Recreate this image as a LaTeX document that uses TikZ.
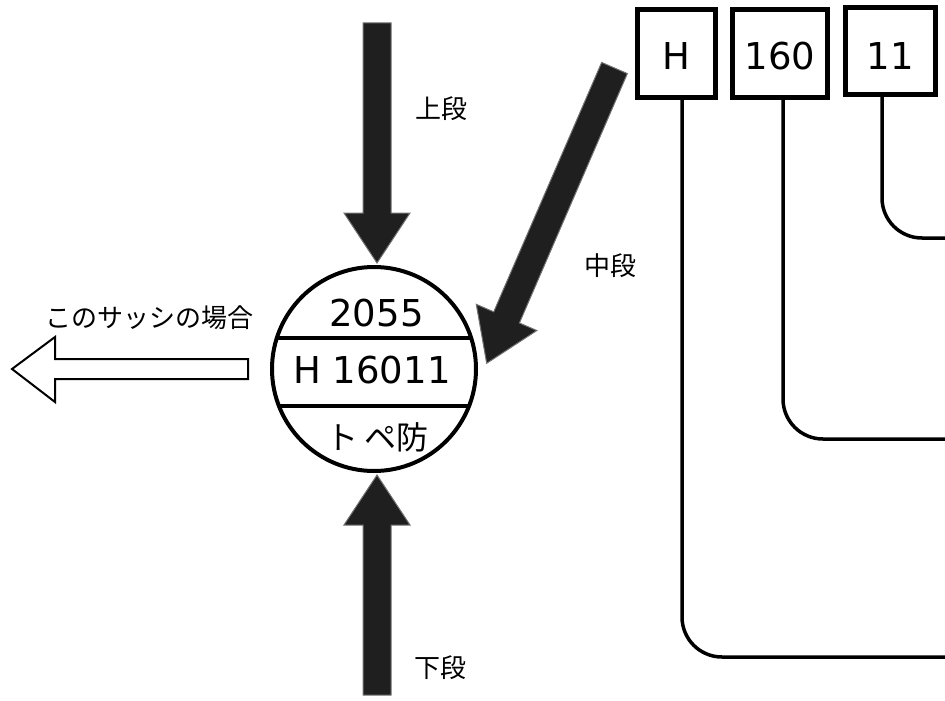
\documentclass[tikz,border=0pt]{standalone}
\usepackage{fontspec}
\newfontfamily\jpfont{Noto Sans CJK JP}
\newfontfamily\dvfont{DejaVu Sans}
\usetikzlibrary{calc}
\tikzset{
  fatstyle/.style={fill=black!88, draw=black!55, line width=1pt, line join=miter},
  hollowstyle/.style={fill=white, draw=black, line width=2pt, line join=miter},
  numbox/.style={draw=black, line width=5pt, inner sep=0pt, text depth=0pt, font=\dvfont\fontsize{37}{40}\selectfont},
  conn/.style={draw=black, line width=3.5pt, rounded corners=40pt},
  jplabel/.style={inner sep=0pt, font=\jpfont\fontsize{26}{28}\selectfont},
  circtext/.style={inner sep=0pt, font=\dvfont\fontsize{37}{40}\selectfont},
  circjp/.style={inner sep=0pt, font=\jpfont\fontsize{32}{34}\selectfont},
}
\newcommand\myfatarr[2]{%
  \coordinate (fa-b) at ($(#2)!50pt!(#1)$);
  \filldraw[fatstyle] ($(#1)!14pt!90:(#2)$) -- ($(fa-b)!14pt!90:(#2)$) -- ($(fa-b)!33pt!90:(#2)$) -- (#2) -- ($(fa-b)!33pt!-90:(#2)$) -- ($(fa-b)!14pt!-90:(#2)$) -- ($(#1)!14pt!-90:(#2)$) -- cycle;}
\begin{document}
\begin{tikzpicture}[x=1pt,y=-1pt]
\useasboundingbox (0,0) rectangle (945,701);
\fill[white] (0,0) rectangle (945,701);

% central circle
\node[circle, draw=black, line width=4pt, minimum size=204pt, inner sep=0pt] (c) at (374,369) {};
\coordinate (l1a) at ($(c.center)+(-97.2,-31)$);
\coordinate (l1b) at ($(c.center)+(97.2,-31)$);
\coordinate (l2a) at ($(c.center)+(-95.05,37)$);
\coordinate (l2b) at ($(c.center)+(95.05,37)$);
\draw[line width=4pt] (l1a) -- (l1b);
\draw[line width=4pt] (l2a) -- (l2b);
\node[circtext] (t1) at (376.5,313.5) {2055};
\node[circtext] (t2) at (372,370) {H 16011};
\node[circjp] (t3) at (377.5,437) {ト\hspace{0.2em}ペ防};

% fat arrows
\coordinate (upT) at (377,23);
\coordinate (upH) at (377,263);
\myfatarr{upT}{upH}
\coordinate (dnT) at (377,695);
\coordinate (dnH) at (377,475);
\myfatarr{dnT}{dnH}
\coordinate (mdT) at (614.5,68);
\coordinate (mdH) at (486.7,363.3);
\myfatarr{mdT}{mdH}

% labels
\node[jplabel] (lu) at (441,109) {上段};
\node[jplabel] (lm) at (610,266) {中段};
\node[jplabel] (ld) at (440,668) {下段};
\node[jplabel] (lc) at (149,318) {このサッシの場合};

% hollow arrow
\draw[hollowstyle] (12,369) -- (55,337) -- (55,359) -- (248,359) -- (248,379) -- (55,379) -- (55,402) -- cycle;

% boxes
\node[numbox, text height=33pt, minimum width=78pt, minimum height=88pt] (bH) at (676.5,53.5) {H};
\node[numbox, text height=33pt, minimum width=95pt, minimum height=88pt] (b160) at (780,53.5) {160};
\node[numbox, text height=38pt, minimum width=90pt, minimum height=87pt] (b11) at (890.5,51) {11};

% connectors
\coordinate (eH) at (946,657);
\coordinate (e160) at (946,439);
\coordinate (e11) at (946,238);
\draw[conn] ([xshift=5.5pt,yshift=1pt]bH.south) |- (eH);
\draw[conn] ([xshift=3pt,yshift=1pt]b160.south) |- (e160);
\draw[conn] ([xshift=-8.5pt,yshift=1pt]b11.south) |- (e11);
\end{tikzpicture}
\end{document}
